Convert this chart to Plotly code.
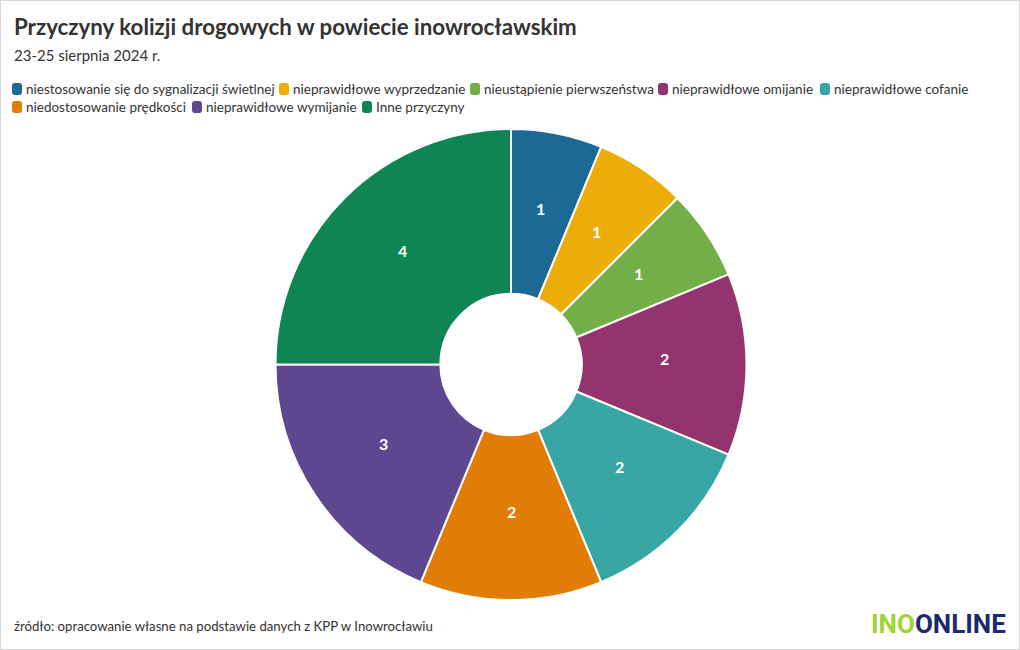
import math
import plotly.graph_objects as go

labels = ["niestosowanie się do sygnalizacji świetlnej", "nieprawidłowe wyprzedzanie",
          "nieustąpienie pierwszeństwa", "nieprawidłowe omijanie", "nieprawidłowe cofanie",
          "niedostosowanie prędkości", "nieprawidłowe wymijanie", "Inne przyczyny"]
values = [1, 1, 1, 2, 2, 2, 3, 4]
colors = ["#1D6996", "#EDAD08", "#73AF48", "#94346E", "#38A6A5", "#E17C05", "#5F4690", "#0F8554"]

FONT = "Lato"
W, H = 1020, 650
TXT = "#333333"

# pie geometry (pixels)
PX0, PX1, PY0, PY1 = 275, 747, 129, 600
HOLE = 0.3

# manual legend layout (pixel positions of symbols: row, x)
legend_pos = [(0, 12), (0, 279), (0, 470), (0, 658), (0, 820), (1, 12), (1, 192), (1, 362)]
row_y = [89, 107]

fig = go.Figure(go.Pie(
    labels=labels, values=values, sort=False, direction="clockwise", rotation=0,
    hole=HOLE,
    marker=dict(colors=colors, line=dict(color="white", width=2)),
    textinfo="none",
    domain=dict(x=[PX0 / W, PX1 / W], y=[(H - PY1) / H, (H - PY0) / H]),
    showlegend=False,
))

annotations = [
    dict(text="<b>Przyczyny kolizji drogowych w powiecie inowrocławskim</b>", x=12 / W, y=(H - 26) / H,
         xref="paper", yref="paper", xanchor="left", yanchor="middle", showarrow=False,
         font=dict(family=FONT, size=22.3, color=TXT)),
    dict(text="23-25 sierpnia 2024 r.", x=12 / W, y=(H - 55) / H,
         xref="paper", yref="paper", xanchor="left", yanchor="middle", showarrow=False,
         font=dict(family=FONT, size=15, color=TXT)),
    dict(text="źródło: opracowanie własne na podstawie danych z KPP w Inowrocławiu", x=12 / W, y=(H - 626) / H,
         xref="paper", yref="paper", xanchor="left", yanchor="middle", showarrow=False,
         font=dict(family=FONT, size=13.2, color=TXT)),
    dict(text="<b><span style='color:#A2D233'>INO</span><span style='color:#1B2A6B'>ONLINE</span></b>",
         x=1008 / W, y=(H - 624) / H, xref="paper", yref="paper", xanchor="right", yanchor="middle",
         showarrow=False, font=dict(family="Roboto", size=26)),
]

# slice value labels at mid-radius of the ring
cx, cy0 = (PX0 + PX1) / 2, (PY0 + PY1) / 2
R = min(PX1 - PX0, PY1 - PY0) / 2
r_mid = R * (1 + HOLE) / 2
y_shift = -6
total = sum(values)
cum = 0
for v in values:
    ang = 2 * math.pi * (cum + v / 2) / total
    cum += v
    px = cx + r_mid * math.sin(ang)
    py = cy0 - r_mid * math.cos(ang) + y_shift
    annotations.append(dict(text=f"<b>{v}</b>", x=px / W, y=(H - py) / H, xref="paper", yref="paper",
                            xanchor="center", yanchor="middle", showarrow=False,
                            font=dict(family=FONT, size=16, color="white")))

shapes = [dict(type="rect", xref="paper", yref="paper", x0=0, y0=0, x1=1, y1=1,
               line=dict(color="#D6D6D6", width=2), layer="below")]

for lab, col, (r, px) in zip(labels, colors, legend_pos):
    cy = row_y[r]
    shapes.append(dict(type="path", xref="paper", yref="paper", fillcolor=col, line=dict(width=0),
                       path=(f"M {(px+3)/W},{(H-cy+6)/H} L {(px+7)/W},{(H-cy+6)/H} "
                             f"Q {(px+10)/W},{(H-cy+6)/H} {(px+10)/W},{(H-cy+3)/H} "
                             f"L {(px+10)/W},{(H-cy-3)/H} Q {(px+10)/W},{(H-cy-6)/H} {(px+7)/W},{(H-cy-6)/H} "
                             f"L {(px+3)/W},{(H-cy-6)/H} Q {px/W},{(H-cy-6)/H} {px/W},{(H-cy-3)/H} "
                             f"L {px/W},{(H-cy+3)/H} Q {px/W},{(H-cy+6)/H} {(px+3)/W},{(H-cy+6)/H} Z")))
    annotations.append(dict(text=lab, x=(px + 12) / W, y=(H - cy) / H, xref="paper", yref="paper",
                            xanchor="left", yanchor="middle", showarrow=False,
                            font=dict(family=FONT, size=13.5, color=TXT)))

fig.update_layout(
    width=W, height=H, margin=dict(l=0, r=0, t=0, b=0),
    paper_bgcolor="white", plot_bgcolor="white",
    font=dict(family=FONT, color=TXT),
    showlegend=False,
    annotations=annotations, shapes=shapes,
)

fig.write_html("out.html")
